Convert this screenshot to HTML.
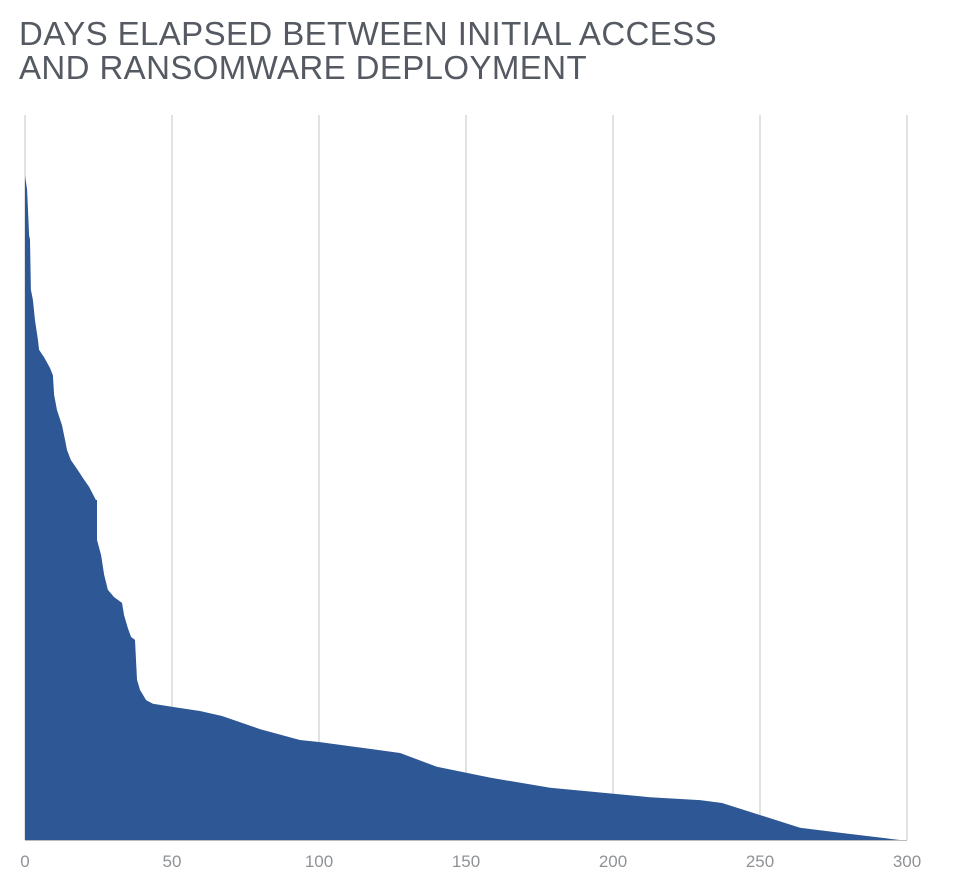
<!DOCTYPE html>
<html><head><meta charset="utf-8"><style>
body{margin:0;background:#fff;width:974px;height:872px;overflow:hidden;font-family:"Liberation Sans",sans-serif}
h1{position:absolute;left:19px;top:17px;margin:0;font-weight:normal;font-size:33px;line-height:34px;color:#555a62;letter-spacing:0.4px}
svg{position:absolute;left:0;top:0}
</style></head><body>
<h1>DAYS ELAPSED BETWEEN INITIAL ACCESS<br>AND RANSOMWARE DEPLOYMENT</h1>
<svg id="c" width="974" height="872"></svg>
<script>
const days=[0,0.7,1.4,1.7,2.0,2.7,3.4,4.4,4.8,6.5,8.5,9.5,9.9,10.9,12.6,13.6,14.3,15.6,18.0,20.1,21.8,24.1,24.5,24.5,25.9,26.9,28.2,30.3,33.0,33.7,35.0,36.1,37.4,38.1,39.1,41.2,43.5,51.0,59.5,67.0,79.9,93.5,100.3,127.6,140.1,158.2,178.6,212.6,229.6,237.1,263.6,277.2,297.6];
const values=[91.7,89.7,83.4,82.8,75.9,74.5,71.7,69.0,67.6,66.6,65.1,64.1,61.4,59.3,57.2,55.2,53.8,52.4,51.0,49.7,48.7,46.9,46.9,41.4,39.3,36.6,34.5,33.5,32.7,31.0,29.2,28.0,27.6,22.1,20.7,19.3,18.8,18.3,17.8,17.1,15.3,13.8,13.5,12.0,10.1,8.6,7.2,5.9,5.5,5.1,1.7,1.0,0];
const xTicks=[0,50,100,150,200,250,300];
const NS="http://www.w3.org/2000/svg",svg=document.getElementById('c');
const X=d=>25+d*2.94, Y=v=>840-v*7.25;
function mk(t,a){const e=document.createElementNS(NS,t);for(const k in a)e.setAttribute(k,a[k]);svg.appendChild(e);return e;}
xTicks.forEach(t=>{
 const g=mk('line',{x1:X(t),x2:X(t),y1:115,y2:840,stroke:'#c4c4c4','stroke-width':1});
 
 
 const l=mk('text',{x:X(t),y:867,'text-anchor':'middle','font-size':17,fill:'#8f9297','font-family':'Liberation Sans, sans-serif'});
 l.textContent=t;
 
 
});
let d='M'+X(0)+','+Y(0);
days.forEach((v,i)=>{d+=' L'+X(v).toFixed(1)+','+Y(values[i]).toFixed(1);});
d+=' Z';
const a=mk('path',{d:d,fill:'#2e5795'});


const b=mk('line',{x1:25,x2:907,y1:840.5,y2:840.5,stroke:'#bbb','stroke-width':1});


</script>
</body></html>
